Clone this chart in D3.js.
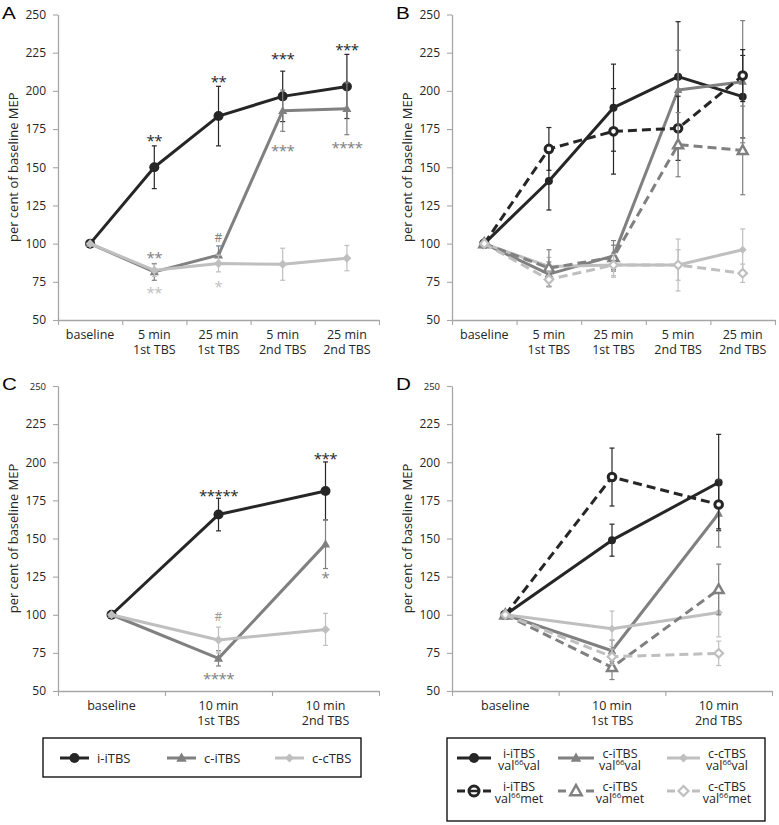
<!DOCTYPE html>
<html><head><meta charset="utf-8">
<script src="https://cdn.jsdelivr.net/npm/d3@7"></script>
<style>body{margin:0;background:#fff}svg{display:block;font-family:'Open Sans',sans-serif}</style>
</head><body><svg id="c" width="779" height="825"></svg>
<script>
// ---------- data ----------
const yTicks = [50, 75, 100, 125, 150, 175, 200, 225, 250];
const catsAB = [["baseline"], ["5 min", "1st TBS"], ["25 min", "1st TBS"], ["5 min", "2nd TBS"], ["25 min", "2nd TBS"]];
const catsCD = [["baseline"], ["10 min", "1st TBS"], ["10 min", "2nd TBS"]];
const yTitle = "per cent of baseline MEP";

// Panel A
const aIiVal = [100, 150, 183.5, 196.4, 202.9], aIiErr = [0, 14, 19.5, 16.5, 21];
const aCiVal = [100, 81.5, 92.5, 187, 188.3], aCiErr = [0, 5.5, 6, 13.5, 17];
const aCcVal = [100, 82.5, 87, 86.5, 90.5], aCcErr = [0, 4, 5.5, 10.5, 8.3];
// Panel B
const bIvVal = [100, 141, 189, 209.3, 196.2], bIvErr = [0, 19, 28.5, 36, 27];
const bCvVal = [100, 80, 92, 200.6, 206], bCvErr = [0, 8, 10, 26, 40];
const bCcvVal = [100, 85, 86, 86, 96], bCcvErr = [0, 6, 8, 17, 13.6];
const bImVal = [100, 162, 173.5, 175.5, 210], bImErr = [0, 14, 28, 21, 17];
const bCmVal = [100, 84, 91, 164.8, 161], bCmErr = [0, 12, 8, 21, 29];
const bCcmVal = [100, 76.5, 86, 86, 80.6], bCcmErr = [0, 5, 7, 10, 6];
// Panel C
const cIiVal = [100, 165.7, 181.2], cIiErr = [0, 10.7, 19];
const cCiVal = [100, 71.4, 146.3], cCiErr = [0, 5, 16];
const cCcVal = [100, 83.4, 90.4], cCcErr = [0, 8.5, 10.5];
// Panel D
const dIvVal = [100, 148.9, 186.7], dIvErr = [0, 10.5, 31.6];
const dCvVal = [100, 76.4, 166.4], dCvErr = [0, 7, 22];
const dCcvVal = [100, 90.8, 101.5], dCcvErr = [0, 11.6, 16];
const dImVal = [100, 190.3, 172.3], dImErr = [0, 19, 16];
const dCmVal = [100, 65.5, 116.6], dCmErr = [0, 8, 16.6];
const dCcmVal = [100, 72.5, 74.7], dCcmErr = [0, 5, 8];

// significance marks: [category index, value at text centre, text, tone]
const aNotes = [[1, 169, "**", "dark"], [2, 208, "**", "dark"], [3, 223, "***", "dark"], [4, 229, "***", "dark"],
  [3, 162.6, "***", "grey"], [4, 164.6, "****", "grey"], [2, 104, "#", "grey"], [1, 92.5, "**", "grey"],
  [1, 70, "**", "light"], [2, 74, "*", "light"]];
const cNotes = [[1, 179.7, "*****", "dark"], [2, 204.5, "***", "dark"], [1, 98.5, "#", "mid"],
  [1, 59.8, "****", "grey"], [2, 126, "*", "grey"]];

const legendLeft = ["i-iTBS", "c-iTBS", "c-cTBS"];
const legendRightTop = ["i-iTBS", "c-iTBS", "c-cTBS"];
const legendRightBottom = ["val", "met"];

// ---------- styles ----------
const tone = {dark: "#262626", grey: "#808080", light: "#bfbfbf", mid: "#9a9a9a"};
const st = {
  iS: {c: tone.dark, dash: null, m: "circle", r: 5, fill: tone.dark},
  cS: {c: tone.grey, dash: null, m: "triangle", r: 4.8, fill: tone.grey},
  ccS: {c: tone.light, dash: null, m: "diamond", r: 4.5, fill: tone.light},
  iSs: {c: tone.dark, dash: null, m: "circle", r: 4, fill: tone.dark},
  iD: {c: tone.dark, dash: "9,5", m: "ocircle", r: 3.8, fill: "#fff"},
  cD: {c: tone.grey, dash: "9,5", m: "otriangle", r: 5.2, fill: "#fff"},
  ccD: {c: tone.light, dash: "9,5", m: "odiamond", r: 4.3, fill: "#fff"}
};

const svg = d3.select("#c");
svg.append("rect").attr("width", 779).attr("height", 825).attr("fill", "#fff");

function marker(g, type, x, y, s, hollowFill) {
  const hf = hollowFill || "#fff";
  if (type === "circle") {
    g.append("circle").attr("cx", x).attr("cy", y).attr("r", s.r).attr("fill", s.fill);
  } else if (type === "ocircle") {
    g.append("circle").attr("cx", x).attr("cy", y).attr("r", s.r).attr("fill", hf)
      .attr("stroke", s.c).attr("stroke-width", 3);
  } else if (type === "triangle" || type === "otriangle") {
    const r = s.r;
    const p = d3.path();
    p.moveTo(x, y - r); p.lineTo(x + r * 0.95, y + r * 0.7); p.lineTo(x - r * 0.95, y + r * 0.7); p.closePath();
    const e = g.append("path").attr("d", p.toString());
    if (type === "triangle") e.attr("fill", s.fill);
    else e.attr("fill", hf).attr("stroke", s.c).attr("stroke-width", 2.5).attr("stroke-linejoin", "miter");
  } else {
    const r = s.r;
    const p = d3.path();
    p.moveTo(x, y - r); p.lineTo(x + r, y); p.lineTo(x, y + r); p.lineTo(x - r, y); p.closePath();
    const e = g.append("path").attr("d", p.toString());
    if (type === "diamond") e.attr("fill", s.fill);
    else e.attr("fill", hf).attr("stroke", s.c).attr("stroke-width", 2.2);
  }
}

function panel(cfg) {
  const g = svg.append("g");
  const n = cfg.cats.length;
  const y = d3.scaleLinear().domain([50, 250]).range([cfg.yb, cfg.yt]);
  const xb = d3.scaleBand().domain(d3.range(n)).range([cfg.x0, cfg.x1]);
  const xc = i => xb(i) + xb.bandwidth() / 2;
  const xl = d3.scaleLinear().domain([0, n]).range([cfg.x0, cfg.x1]);

  // y axis
  const ya = g.append("g").attr("transform", `translate(${cfg.x0},0)`)
    .call(d3.axisLeft(y).tickValues(yTicks).tickSize(5).tickSizeOuter(0).tickPadding(7));
  ya.select(".domain").attr("stroke", "#a6a6a6").attr("stroke-width", 1.3);
  ya.selectAll(".tick line").attr("stroke", "#a6a6a6").attr("stroke-width", 1.1);
  ya.selectAll(".tick text").attr("font-family", "'Open Sans',sans-serif").attr("fill", "#262626")
    .attr("font-size", d => (cfg.small250 && d === 250) ? 9.5 : 12);
  // x axis
  const xa = g.append("g").attr("transform", `translate(0,${cfg.yb})`)
    .call(d3.axisBottom(xl).tickValues(d3.range(n + 1)).tickFormat("").tickSize(5).tickSizeOuter(0));
  xa.select(".domain").attr("stroke", "#a6a6a6").attr("stroke-width", 1.3);
  xa.selectAll(".tick line").attr("stroke", "#a6a6a6").attr("stroke-width", 1.1);
  // category labels
  cfg.cats.forEach((lines, i) => {
    const t = g.append("text").attr("text-anchor", "middle").attr("font-size", 12.5).attr("fill", "#262626");
    lines.forEach((ln, j) => t.append("tspan").attr("x", xc(i)).attr("y", cfg.yb + 19 + j * 15).text(ln));
  });
  // y title
  g.append("text").attr("transform", `translate(${cfg.x0 - 45},${(cfg.yt + cfg.yb) / 2}) rotate(-90)`)
    .attr("text-anchor", "middle").attr("dominant-baseline", "central").attr("font-size", 13).attr("fill", "#262626").text(yTitle);
  // panel letter
  g.append("text").attr("transform", `translate(${cfg.x0 - 56},${cfg.yt + 4}) scale(1.25,1)`)
    .attr("font-family", "'Liberation Sans',Arial,sans-serif")
    .attr("font-size", 16.5).attr("fill", "#000").text(cfg.label);

  // series
  cfg.series.forEach(se => {
    const s = se.s;
    const sg = g.append("g");
    se.v.forEach((v, i) => {
      const e = se.e[i];
      if (e > 0) {
        const x = xc(i);
        sg.append("line").attr("x1", x).attr("x2", x).attr("y1", y(v - e)).attr("y2", y(v + e)).attr("stroke", s.c).attr("stroke-width", 1.2);
        [v - e, v + e].forEach(w => sg.append("line").attr("x1", x - 2.5).attr("x2", x + 2.5).attr("y1", y(w)).attr("y2", y(w)).attr("stroke", s.c).attr("stroke-width", 1.2));
      }
    });
    const line = d3.line().x((d, i) => xc(i)).y(d => y(d));
    sg.append("path").attr("d", line(se.v)).attr("fill", "none").attr("stroke", s.c).attr("stroke-width", 3)
      .attr("stroke-dasharray", s.dash).attr("stroke-linejoin", "round");
    se.v.forEach((v, i) => marker(sg, s.m, xc(i), y(v), s));
  });

  // notes
  (cfg.notes || []).forEach(([i, v, txt, tn]) => {
    const fs = txt === "#" ? 12 : 15;
    const off = txt === "#" ? 0.36 : 0.55;
    g.append("text").attr("x", xc(i)).attr("y", y(v) + off * fs).attr("text-anchor", "middle")
      .attr("font-size", fs).attr("fill", tone[tn]).attr("letter-spacing", txt === "#" ? 0 : -0.5).text(txt);
  });
}

panel({label: "A", x0: 58, x1: 379, yt: 14.5, yb: 320, cats: catsAB, notes: aNotes,
  series: [{v: aIiVal, e: aIiErr, s: st.iS}, {v: aCiVal, e: aCiErr, s: st.cS}, {v: aCcVal, e: aCcErr, s: st.ccS}]});
panel({label: "B", x0: 452, x1: 775, yt: 14.5, yb: 320, cats: catsAB,
  series: [{v: bIvVal, e: bIvErr, s: st.iSs}, {v: bCvVal, e: bCvErr, s: {...st.cS, r: 4.5}}, {v: bCcvVal, e: bCcvErr, s: {...st.ccS, r: 4}},
    {v: bImVal, e: bImErr, s: st.iD}, {v: bCmVal, e: bCmErr, s: st.cD}, {v: bCcmVal, e: bCcmErr, s: st.ccD}]});
panel({label: "C", x0: 58, x1: 379, yt: 386, yb: 691, cats: catsCD, notes: cNotes, small250: true,
  series: [{v: cIiVal, e: cIiErr, s: st.iS}, {v: cCiVal, e: cCiErr, s: st.cS}, {v: cCcVal, e: cCcErr, s: st.ccS}]});
panel({label: "D", x0: 452, x1: 772, yt: 386, yb: 691, cats: catsCD, small250: true,
  series: [{v: dIvVal, e: dIvErr, s: st.iSs}, {v: dCvVal, e: dCvErr, s: {...st.cS, r: 4.5}}, {v: dCcvVal, e: dCcvErr, s: {...st.ccS, r: 4}},
    {v: dImVal, e: dImErr, s: st.iD}, {v: dCmVal, e: dCmErr, s: st.cD}, {v: dCcmVal, e: dCcmErr, s: st.ccD}]});

// ---------- legends ----------
const lg = svg.append("g");
lg.append("rect").attr("x", 43).attr("y", 738).attr("width", 318).attr("height", 39).attr("fill", "none").attr("stroke", "#000").attr("stroke-width", 1.3);
const leftSt = [st.iS, {...st.cS, r: 5.5}, st.ccS];
const leftStart = [60, 167, 275];
legendLeft.forEach((name, i) => {
  const s = leftSt[i], x = leftStart[i], yy = 758;
  lg.append("line").attr("x1", x).attr("x2", x + 29).attr("y1", yy).attr("y2", yy).attr("stroke", s.c).attr("stroke-width", 3);
  marker(lg, s.m, x + 14.5, yy, s);
  lg.append("text").attr("x", x + 37).attr("y", yy).attr("dominant-baseline", "central").attr("font-size", 13).attr("fill", "#262626").text(name);
});

const rg = svg.append("g");
rg.append("rect").attr("x", 447).attr("y", 738).attr("width", 318).attr("height", 83).attr("fill", "none").attr("stroke", "#000").attr("stroke-width", 1.3);
const colLine = [[457, 491], [558, 594], [667, 700]];
const colText = [519, 620, 727];
const rowY = [758, 791];
const rowSt = [[st.iS, {...st.cS, r: 5.5}, st.ccS], [{...st.iD, r: 5}, {...st.cD, r: 6}, {...st.ccD, r: 5}]];
rowY.forEach((yy, r) => {
  legendRightTop.forEach((name, c) => {
    const s = rowSt[r][c];
    const [a, b] = colLine[c];
    const m = (a + b) / 2;
    if (s.dash) {
      rg.append("line").attr("x1", a).attr("x2", a + 8).attr("y1", yy).attr("y2", yy).attr("stroke", s.c).attr("stroke-width", 3);
      rg.append("line").attr("x1", b - 8).attr("x2", b).attr("y1", yy).attr("y2", yy).attr("stroke", s.c).attr("stroke-width", 3);
      if (s.m === "ocircle") rg.append("line").attr("x1", m - 5).attr("x2", m + 5).attr("y1", yy).attr("y2", yy).attr("stroke", s.c).attr("stroke-width", 2.5);
      marker(rg, s.m, m, yy, s, s.m === "ocircle" ? "none" : "#fff");
    } else {
      rg.append("line").attr("x1", a).attr("x2", b).attr("y1", yy).attr("y2", yy).attr("stroke", s.c).attr("stroke-width", 3);
      marker(rg, s.m, m, yy, s);
    }
    rg.append("text").attr("x", colText[c]).attr("y", yy - 0.5).attr("text-anchor", "middle").attr("font-size", 12.5).attr("fill", "#262626").text(name);
    const t2 = rg.append("text").attr("x", colText[c]).attr("y", yy + 11.5).attr("text-anchor", "middle").attr("font-size", 12.5).attr("fill", "#262626");
    t2.append("tspan").text("val");
    t2.append("tspan").attr("dy", -5).attr("font-size", 8).text("66");
    t2.append("tspan").attr("dy", 5).text(legendRightBottom[r]);
  });
});
</script></body></html>
